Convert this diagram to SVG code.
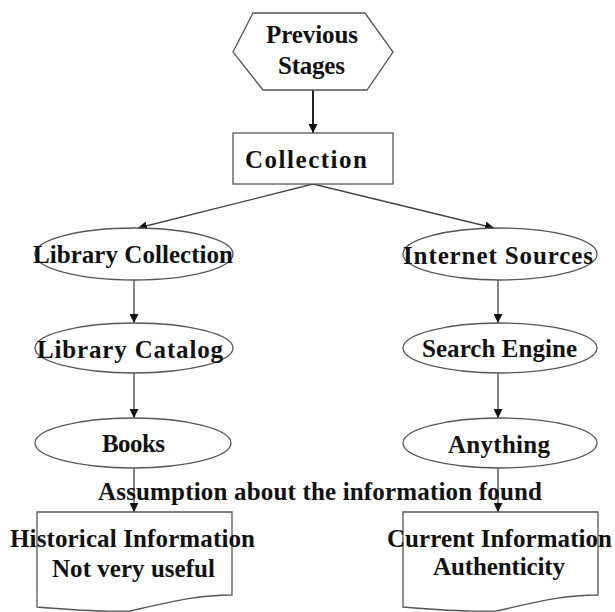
<svg xmlns="http://www.w3.org/2000/svg" width="615" height="612" viewBox="0 0 615 612">
<defs>
<style>
.shape{fill:#fff;stroke:#555;stroke-width:1.3}
.edge{fill:none;stroke:#444;stroke-width:1.3}
.t{font-family:"Liberation Serif","Times New Roman",serif;font-weight:bold;font-size:25px;fill:#111}
</style>
<marker id="ah" viewBox="0 0 10 10" refX="10" refY="5" markerWidth="9" markerHeight="9" markerUnits="userSpaceOnUse" orient="auto">
<path d="M0,0 L10,5 L0,10 Z" fill="#111"/>
</marker>
</defs>
<rect width="615" height="612" fill="#fff"/>
<g id="connectors">
<line class="edge" x1="313" y1="90" x2="313" y2="133" marker-end="url(#ah)" style="stroke-width:2;stroke:#222"/>
<line class="edge" x1="313" y1="184" x2="138" y2="228" marker-end="url(#ah)"/>
<line class="edge" x1="313" y1="184" x2="494" y2="228" marker-end="url(#ah)"/>
<line class="edge" x1="134" y1="280" x2="134" y2="323" marker-end="url(#ah)"/>
<line class="edge" x1="134" y1="373" x2="134" y2="418" marker-end="url(#ah)"/>
<line class="edge" x1="134" y1="468" x2="134" y2="512" marker-end="url(#ah)"/>
<line class="edge" x1="498" y1="280" x2="498" y2="323" marker-end="url(#ah)"/>
<line class="edge" x1="498" y1="373" x2="498" y2="418" marker-end="url(#ah)"/>
<line class="edge" x1="498" y1="468" x2="498" y2="512" marker-end="url(#ah)"/>
</g>
<g id="previous-stages">
<polygon class="shape" points="233,52 253,13 365,13 393,52 367,90 263,90"/>
<text class="t" x="266" y="43" textLength="92">Previous</text>
<text class="t" x="278" y="74" textLength="67">Stages</text>
</g>
<g id="collection">
<rect class="shape" x="233" y="133" width="160" height="51"/>
<text class="t" x="245" y="168" textLength="122">Collection</text>
</g>
<g id="library-collection">
<ellipse class="shape" cx="134" cy="254" rx="99" ry="26"/>
<text class="t" x="33" y="263" textLength="200">Library Collection</text>
</g>
<g id="library-catalog">
<ellipse class="shape" cx="134" cy="348" rx="99" ry="25"/>
<text class="t" x="37" y="358" textLength="186">Library Catalog</text>
</g>
<g id="books">
<ellipse class="shape" cx="133" cy="443" rx="98" ry="25"/>
<text class="t" x="102" y="452" textLength="63">Books</text>
</g>
<g id="internet-sources">
<ellipse class="shape" cx="500" cy="254" rx="97" ry="26"/>
<text class="t" x="403" y="264" textLength="190">Internet Sources</text>
</g>
<g id="search-engine">
<ellipse class="shape" cx="500" cy="348" rx="97" ry="25"/>
<text class="t" x="422" y="357" textLength="155">Search Engine</text>
</g>
<g id="anything">
<ellipse class="shape" cx="500" cy="443" rx="97" ry="25"/>
<text class="t" x="448" y="453" textLength="102">Anything</text>
</g>
<g id="assumption-label">
<text class="t" x="98" y="500" textLength="444">Assumption about the information found</text>
</g>
<g id="historical-information">
<path class="shape" d="M37,512 H232 V595 C190,595 160,605 130,611 C100,612 60,609 37,607 Z"/>
<text class="t" x="10" y="547" textLength="245">Historical Information</text>
<text class="t" x="52" y="577" textLength="163">Not very useful</text>
</g>
<g id="current-information">
<path class="shape" d="M403,512 H598 V595 C556,595 526,605 496,611 C466,612 426,609 403,607 Z"/>
<text class="t" x="387" y="547" textLength="225">Current Information</text>
<text class="t" x="433" y="575" textLength="132">Authenticity</text>
</g>
</svg>
